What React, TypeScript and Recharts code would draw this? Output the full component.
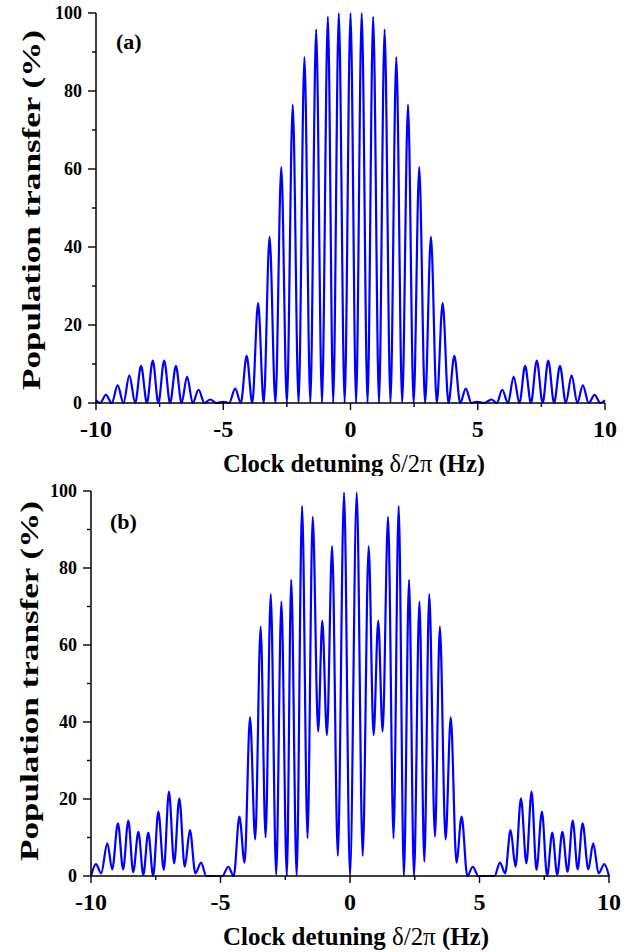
import React from "react";
import { Label, Line, LineChart, XAxis, YAxis } from "recharts";

const FONT = '"Liberation Serif", "Times New Roman", serif';

// (a) extrema: detuning (Hz) / transfer (%)
const freqA = [
  -10, -9.84, -9.61, -9.38, -9.15, -8.92, -8.69, -8.46, -8.23, -8.0, -7.77, -7.55, -7.32, -7.09,
  -6.86, -6.64, -6.42, -6.2, -5.97, -5.74, -5.51, -5.26, -5.01, -4.77, -4.53, -4.31, -4.08, -3.86,
  -3.63, -3.41, -3.18, -2.95, -2.72, -2.5, -2.27, -2.04, -1.81, -1.58, -1.35, -1.12, -0.89, -0.68,
  -0.46, -0.23, 0, 0.22, 0.44, 0.67, 0.89, 1.12, 1.34, 1.57, 1.8, 2.03, 2.26, 2.48, 2.7, 2.93,
  3.16, 3.39, 3.62, 3.85, 4.08, 4.31, 4.53, 4.75, 4.96, 5.25, 5.54, 5.75, 5.96, 6.19, 6.41, 6.64,
  6.86, 7.09, 7.32, 7.55, 7.77, 8.0, 8.23, 8.46, 8.69, 8.91, 9.13, 9.36, 9.59, 9.82, 10,
];
const transferA = [
  0.7, 0, 2.1, 0, 4.5, 0, 7.1, 0, 9.5, 0, 10.9, 0, 10.9, 0,
  9.5, 0, 6.8, 0, 3.4, 0, 0.9, 0, 0.3, 0, 3.7, 0, 12.1, 0,
  25.6, 0, 42.6, 0, 60.5, 0, 76.5, 0, 88.7, 0, 95.8, 0, 99.1, 0,
  100, 0, 100, 0, 100, 0, 99.1, 0, 95.8, 0, 88.7, 0, 76.5, 0, 60.5, 0,
  42.6, 0, 25.6, 0, 12.1, 0, 3.7, 0, 0.3, 0, 0.9, 0, 3.4, 0,
  6.8, 0, 9.5, 0, 10.9, 0, 10.9, 0, 9.5, 0, 7.1, 0, 4.5, 0, 2.1, 0, 0.7,
];

// (b) extrema
const freqB = [
  -10, -9.81, -9.61, -9.37, -9.18, -8.96, -8.76, -8.56, -8.37, -8.17, -7.98, -7.79, -7.6, -7.4,
  -7.19, -6.99, -6.79, -6.59, -6.38, -6.18, -5.97, -5.75, -5.55, -4.93, -4.7, -4.49, -4.27, -4.07,
  -3.86, -3.66, -3.45, -3.26, -3.06, -2.85, -2.65, -2.44, -2.27, -2.06, -1.85, -1.64, -1.44, -1.23,
  -1.07, -0.89, -0.69, -0.47, -0.23, 0, 0.26, 0.49, 0.72, 0.91, 1.09, 1.26, 1.47, 1.68, 1.88, 2.08,
  2.28, 2.47, 2.68, 2.87, 3.06, 3.28, 3.47, 3.69, 3.89, 4.11, 4.31, 4.53, 4.74, 4.96, 5.58, 5.79,
  5.99, 6.2, 6.39, 6.6, 6.81, 7.01, 7.2, 7.41, 7.61, 7.81, 8.0, 8.2, 8.4, 8.6, 8.79, 8.98, 9.2,
  9.39, 9.6, 9.82, 10,
];
const transferB = [
  0, 3.1, 0.7, 8.5, 1.7, 13.7, 1.7, 14.4, 1.0, 11.5, 0.3, 11.3, 0, 16.7,
  1.6, 21.9, 3.3, 20.2, 2.4, 11.9, 0.7, 3.5, 0, 0, 2.4, 0, 15.4, 3.5,
  41.2, 9.5, 64.8, 10.0, 73.2, 0.3, 71.3, 0, 76.9, 0, 96.1, 9.8, 93.3, 37.5,
  66.3, 36.6, 85.7, 5.2, 99.6, 0, 99.6, 5.2, 85.7, 36.6, 66.3, 37.5, 93.3, 9.8, 96.1, 0,
  76.9, 0, 71.3, 3.7, 73.2, 10.2, 64.8, 9.5, 41.2, 3.5, 15.4, 0, 2.4, 0, 0, 3.5,
  0.7, 11.9, 2.4, 20.2, 3.3, 21.9, 1.6, 16.7, 0, 11.3, 0.3, 11.5, 1.1, 14.4, 1.7,
  13.7, 1.7, 8.5, 0.7, 3.1, 0,
];

const xTicks = [-10, -7.5, -5, -2.5, 0, 2.5, 5, 7.5, 10];
const yTicks = [0, 10, 20, 30, 40, 50, 60, 70, 80, 90, 100];

const toRows = (f: number[], t: number[]) => f.map((freq, i) => ({ freq, transfer: t[i] }));

const majorX = (v: number) => v % 5 === 0;
const majorY = (v: number) => v % 20 === 0;

const BottomTick = ({ x, y, payload }: any) => {
  const major = majorX(payload.value);
  return (
    <g>
      <line x1={x} x2={x} y1={y} y2={y + (major ? 7 : 4)} stroke="#000" strokeWidth={1.4} />
      {major && (
        <text x={x} y={y + 34} textAnchor="middle" fontFamily={FONT} fontWeight="bold" fontSize={24} fill="#000">
          {String(payload.value)}
        </text>
      )}
    </g>
  );
};

const LeftTick = ({ x, y, payload }: any) => {
  const major = majorY(payload.value);
  return (
    <g>
      <line x1={x - (major ? 8 : 4)} x2={x} y1={y} y2={y} stroke="#000" strokeWidth={1.4} />
      {major && (
        <text x={x - 14} y={y + 6} textAnchor="end" fontFamily={FONT} fontWeight="bold" fontSize={18} fill="#000">
          {String(payload.value)}
        </text>
      )}
    </g>
  );
};

const TopTick = ({ x, y, payload }: any) => (
  <line x1={x} x2={x} y1={y} y2={y + (majorX(payload.value) ? 4 : 3)} stroke="#000" strokeWidth={1.2} />
);

const RightTick = ({ x, y, payload }: any) => (
  <line x1={x - (majorY(payload.value) ? 4 : 3)} x2={x} y1={y} y2={y} stroke="#000" strokeWidth={1.2} />
);

interface PanelProps {
  rows: { freq: number; transfer: number }[];
  tag: string;
  plot: { left: number; right: number; top: number; bottom: number };
  tagPos: [number, number];
  xTitlePos: [number, number, number];
  yTitlePos: [number, number, number];
}

const W = 643;
const H = 476;

function Panel({ rows, tag, plot, tagPos, xTitlePos, yTitlePos }: PanelProps) {
  const axisLine = { stroke: "#000", strokeWidth: 1.5 };
  return (
    <LineChart
      width={W}
      height={H}
      data={rows}
      margin={{ top: plot.top, right: W - plot.right, bottom: 0, left: 0 }}
    >
      <XAxis
        xAxisId="bottom"
        dataKey="freq"
        type="number"
        domain={[-10, 10]}
        ticks={xTicks}
        interval={0}
        height={H - plot.bottom}
        tickSize={0}
        tickMargin={0}
        tickLine={false}
        axisLine={axisLine}
        tick={<BottomTick />}
      >
        <Label
          content={() => (
            <g>
              <text
                x={xTitlePos[0]}
                y={xTitlePos[1]}
                textAnchor="middle"
                textLength={xTitlePos[2]}
                lengthAdjust="spacingAndGlyphs"
                fontFamily={FONT}
                fontWeight="bold"
                fontSize={25}
                fill="#000"
              >
                Clock detuning <tspan fontWeight="normal">δ/2π</tspan> (Hz)
              </text>
              <text x={tagPos[0]} y={tagPos[1]} fontFamily={FONT} fontWeight="bold" fontSize={22} fill="#000">
                {tag}
              </text>
            </g>
          )}
        />
      </XAxis>
      <XAxis
        xAxisId="top"
        orientation="top"
        dataKey="freq"
        type="number"
        domain={[-10, 10]}
        ticks={xTicks}
        interval={0}
        height={0}
        tickSize={0}
        tickMargin={0}
        tickLine={false}
        axisLine={axisLine}
        tick={<TopTick />}
      />
      <YAxis
        yAxisId="left"
        type="number"
        domain={[0, 100]}
        ticks={yTicks}
        interval={0}
        width={plot.left}
        tickSize={0}
        tickMargin={0}
        tickLine={false}
        axisLine={axisLine}
        tick={<LeftTick />}
      >
        <Label
          content={() => (
            <text
              transform={`translate(${yTitlePos[0]},${yTitlePos[1]}) rotate(-90)`}
              textAnchor="middle"
              textLength={yTitlePos[2]}
              lengthAdjust="spacingAndGlyphs"
              fontFamily={FONT}
              fontWeight="bold"
              fontSize={26}
              fill="#000"
            >
              Population transfer (%)
            </text>
          )}
        />
      </YAxis>
      <YAxis
        yAxisId="right"
        orientation="right"
        type="number"
        domain={[0, 100]}
        ticks={yTicks}
        interval={0}
        width={0}
        tickSize={0}
        tickMargin={0}
        tickLine={false}
        axisLine={axisLine}
        tick={<RightTick />}
      />
      <Line
        xAxisId="bottom"
        yAxisId="left"
        dataKey="transfer"
        type="monotone"
        stroke="#0000ff"
        strokeWidth={2.2}
        dot={false}
        isAnimationActive={false}
      />
    </LineChart>
  );
}

export default function App() {
  return (
    <div style={{ position: "absolute", left: 0, top: 0, width: W, height: 952, background: "#fff" }}>
      <Panel
        rows={toRows(freqA, transferA)}
        tag="(a)"
        plot={{ left: 96, right: 605, top: 13, bottom: 403 }}
        tagPos={[116, 49]}
        xTitlePos={[354, 472, 262]}
        yTitlePos={[40, 210, 360]}
      />
      <Panel
        rows={toRows(freqB, transferB)}
        tag="(b)"
        plot={{ left: 91, right: 609, top: 15, bottom: 400 }}
        tagPos={[110, 53]}
        xTitlePos={[356, 469, 266]}
        yTitlePos={[38, 205, 360]}
      />
    </div>
  );
}
